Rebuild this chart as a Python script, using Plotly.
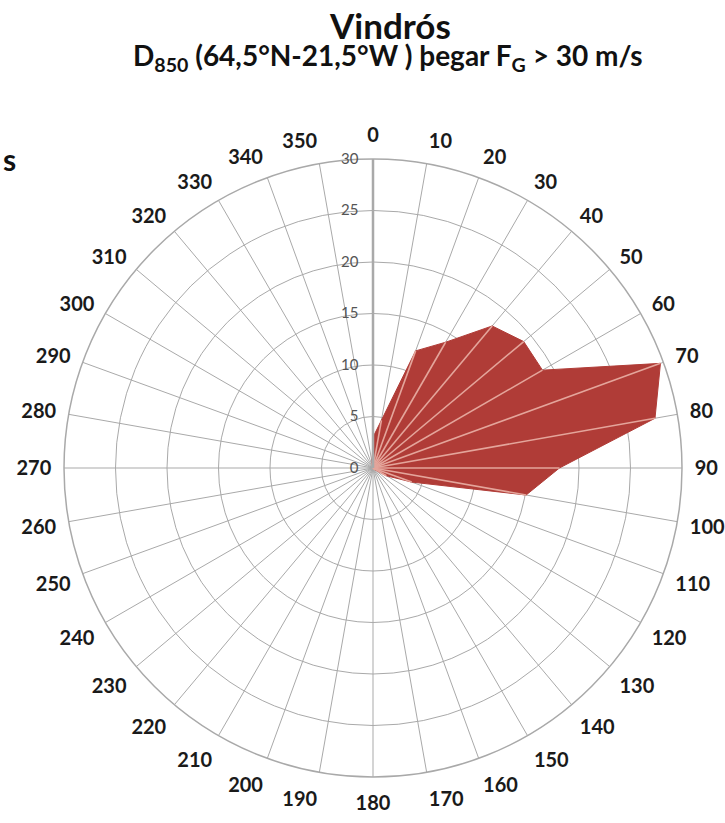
import plotly.graph_objects as go

# Wind directions (degrees) and frequency values
directions = list(range(0, 360, 10))
values = [3.0, 4.7, 12.1, 14.1, 18.0, 19.1, 19.0, 29.7, 27.8, 18.1,
          15.1, 4.0, 1.5, 0.3, 0, 0, 0, 0,
          0, 0, 0, 0, 0, 0, 0, 0, 0,
          0, 0, 0, 0, 0, 0, 0, 0, 0.5]
dir_labels = [str(d) for d in directions]
radial_ticks = [0, 5, 10, 15, 20, 25, 30]

title_text = "Vindrós"
subtitle_text = "D<sub>850</sub> (64,5°N-21,5°W ) þegar F<sub>G</sub> > 30 m/s"

FONT = "Lato"
GRID = "#a9a9a9"
FILL = "#b03c37"

fig = go.Figure()

# filled wind-rose polygon
fig.add_trace(go.Scatterpolar(
    r=values + [values[0]],
    theta=directions + [directions[0]],
    mode="lines",
    fill="toself",
    fillcolor=FILL,
    line=dict(color=FILL, width=1),
    hoverinfo="skip",
    showlegend=False,
))

# light spokes drawn on top of the fill (from centre to each vertex)
sr, st = [], []
for d, v in zip(directions, values):
    if v > 0:
        sr += [0, v, None]
        st += [d, d, None]
fig.add_trace(go.Scatterpolar(
    r=sr, theta=st, mode="lines",
    line=dict(color="rgba(228,165,155,1)", width=1.6),
    hoverinfo="skip", showlegend=False,
))

W, H = 725, 823
cx, cy, R = 373, 468, 309


def px(x):
    return x / W


def py(y):
    return 1 - y / H


fig.update_layout(
    width=W, height=H,
    margin=dict(l=0, r=0, t=0, b=0),
    paper_bgcolor="white",
    plot_bgcolor="white",
    font=dict(family=FONT),
    polar=dict(
        domain=dict(x=[(cx - R) / W, (cx + R) / W],
                    y=[(H - cy - R) / H, (H - cy + R) / H]),
        bgcolor="white",
        angularaxis=dict(
            rotation=90, direction="clockwise",
            tickmode="array", tickvals=directions, ticktext=dir_labels,
            tickfont=dict(family=FONT, size=20, color="#1a1a1a", weight="bold"),
            showgrid=True, gridcolor=GRID, gridwidth=1.3,
            showline=True, linecolor=GRID, linewidth=1.5,
            ticks="outside", ticklen=8, tickcolor="rgba(0,0,0,0)",
        ),
        radialaxis=dict(
            range=[0, 30], tickmode="array", tickvals=radial_ticks,
            angle=90, tickangle=90, side="counterclockwise",
            tickfont=dict(family=FONT, size=15, color="#555555"),
            showgrid=True, gridcolor=GRID, gridwidth=1.3,
            showline=True, linecolor=GRID, linewidth=2.5,
            ticks="outside", ticklen=8, tickcolor="rgba(0,0,0,0)",
            layer="above traces",
        ),
    ),
    annotations=[
        dict(text=title_text, x=px(390), y=py(25), xref="paper", yref="paper",
             showarrow=False, xanchor="center", yanchor="middle",
             font=dict(family=FONT, size=35, color="#111111", weight="bold")),
        dict(text=subtitle_text, x=px(388), y=py(57), xref="paper", yref="paper",
             showarrow=False, xanchor="center", yanchor="middle",
             font=dict(family=FONT, size=28, color="#111111", weight="bold")),
        dict(text="s", x=px(1), y=py(159), xref="paper", yref="paper",
             showarrow=False, xanchor="left", yanchor="middle",
             font=dict(family=FONT, size=30, color="#111111", weight="bold")),
    ],
)

fig.write_html("out.html", config={"displayModeBar": False},
               post_script="document.body.style.margin='0';")
